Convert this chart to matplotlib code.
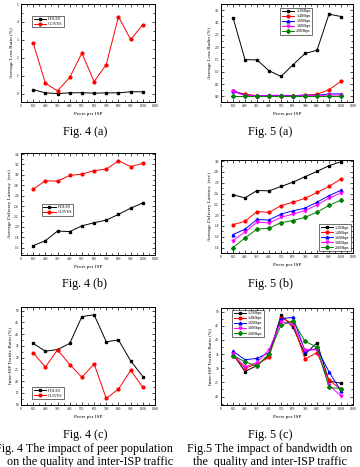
import numpy as np
import matplotlib.pyplot as plt
from matplotlib.ticker import MultipleLocator

plt.rcParams['font.family'] = ['Liberation Serif', 'DejaVu Serif']

peers = [100, 200, 300, 400, 500, 600, 700, 800, 900, 1000]

# Fig. 4 : HOLES vs OLIVES
loss_holes = [0.22, 0.04, 0.0, 0.04, 0.05, 0.02, 0.04, 0.04, 0.10, 0.10]
loss_olives = [2.82, 0.58, 0.15, 0.90, 2.26, 0.67, 1.62, 4.29, 3.02, 3.84]
lat_holes = [1.64, 1.735, 1.92, 1.91, 2.02, 2.08, 2.13, 2.24, 2.36, 2.46]
lat_olives = [2.725, 2.886, 2.88, 2.99, 3.015, 3.08, 3.11, 3.27, 3.16, 3.22]
isp_holes = [36.0, 32.7, 33.4, 36.0, 47.4, 48.2, 36.7, 37.5, 28.6, 21.9]
isp_olives = [32.1, 25.9, 33.3, 27.0, 21.6, 27.3, 12.6, 16.6, 24.5, 17.4]

# Fig. 5 : bandwidth
bw_labels = ['1.2Mbps', '1.4Mbps', '1.6Mbps', '1.8Mbps', '2.0Mbps']
loss_bw = [
    [3.20, 1.49, 1.48, 1.04, 0.81, 1.28, 1.74, 1.87, 3.34, 3.24],
    [0.20, 0.09, 0.03, 0.03, 0.03, 0.01, 0.05, 0.08, 0.27, 0.61],
    [0.23, 0.05, 0.02, 0.04, 0.04, 0.03, 0.05, 0.04, 0.10, 0.10],
    [0.20, 0.03, 0.02, 0.02, 0.02, 0.02, 0.03, 0.03, 0.05, 0.05],
    [0.0, 0.0, 0.0, 0.0, 0.0, 0.0, 0.0, 0.0, 0.0, 0.0],
]
lat_bw = [
    [2.376, 2.32, 2.455, 2.45, 2.53, 2.61, 2.71, 2.81, 2.915, 2.99],
    [1.824, 1.885, 2.067, 2.05, 2.176, 2.24, 2.31, 2.42, 2.53, 2.67],
    [1.64, 1.74, 1.92, 1.91, 2.02, 2.08, 2.13, 2.24, 2.36, 2.46],
    [1.53, 1.69, 1.87, 1.855, 1.96, 2.02, 2.085, 2.19, 2.315, 2.41],
    [1.40, 1.58, 1.74, 1.76, 1.86, 1.90, 1.96, 2.055, 2.18, 2.28],
]
isp_bw = [
    [35.0, 28.8, 31.0, 34.6, 48.8, 44.5, 35.0, 39.0, 25.5, 24.7],
    [34.5, 30.0, 31.5, 33.8, 47.8, 45.8, 33.2, 35.5, 25.8, 22.5],
    [36.0, 33.0, 33.5, 35.5, 47.5, 48.0, 36.0, 37.0, 28.7, 22.0],
    [35.0, 30.5, 32.0, 36.5, 46.5, 45.5, 36.5, 36.5, 24.0, 20.2],
    [34.5, 32.3, 30.7, 35.2, 45.2, 46.8, 39.5, 37.5, 23.2, 22.8],
]

colors = ['black', 'red', 'blue', 'magenta', 'green']
markers = ['s', 'o', '^', 'v', 'D']

W, H = 360, 467
fig = plt.figure(figsize=(W / 100, H / 100), dpi=100)


def make_ax(l, r, t, b):
    return fig.add_axes([l / W, 1 - b / H, (r - l) / W, (b - t) / H])


def style(ax, ylabel, ylim, ymaj, ymin, yfmt):
    ax.set_xlim(0, 1100)
    ax.set_ylim(*ylim)
    ax.xaxis.set_major_locator(MultipleLocator(100))
    ax.xaxis.set_minor_locator(MultipleLocator(50))
    ax.yaxis.set_major_locator(MultipleLocator(ymaj))
    ax.yaxis.set_minor_locator(MultipleLocator(ymin))
    ax.yaxis.set_major_formatter(yfmt)
    ax.tick_params(which='both', direction='in', top=True, right=True,
                   labelsize=2.6, width=0.5, pad=1.5)
    ax.tick_params(which='major', length=2.2)
    ax.tick_params(which='minor', length=1.2)
    for s in ax.spines.values():
        s.set_linewidth(0.7)
    ax.set_xlabel('Peers per ISP', fontsize=3.8, labelpad=3)
    ax.set_ylabel(ylabel, fontsize=3.8, labelpad=2)


def draw(ax, series, labels, loc, anchor=None):
    for i, (ys, lab) in enumerate(zip(series, labels)):
        ax.plot(peers, ys, color=colors[i], marker=markers[i], markersize=2,
                linewidth=0.7, label=lab)
    leg = ax.legend(loc=loc, bbox_to_anchor=anchor, fontsize=3, frameon=True,
                    fancybox=False, edgecolor='black', handlelength=3,
                    borderpad=0.3, labelspacing=0.25, handletextpad=0.5)
    leg.get_frame().set_linewidth(0.5)


# Fig 4 (a)
ax = make_ax(21, 155, 4, 102)
draw(ax, [loss_holes, loss_olives], ['HOLES', 'OLIVES'], 'upper left', (0.07, 0.9))
style(ax, 'Average Loss Ratio (%)', (-0.47, 5), 1, 0.5, '{x:.0f}')

# Fig 5 (a)
ax = make_ax(221, 353, 4, 102)
draw(ax, loss_bw, bw_labels, 'upper center', (0.57, 0.98))
style(ax, 'Average Loss Radio (%)', (-0.23, 3.75), 0.5, 0.25, '{x:.1f}')

# Fig 4 (b)
ax = make_ax(21, 155, 153, 255)
draw(ax, [lat_holes, lat_olives], ['HOLES', 'OLIVES'], 'upper left', (0.14, 0.52))
style(ax, 'Average Delivery Latency  (sec)', (1.46, 3.42), 0.2, 0.1, '{x:.1f}')

# Fig 5 (b)
ax = make_ax(221, 353, 160, 253)
draw(ax, lat_bw, bw_labels, 'lower right', (1.0, 0.0))
style(ax, 'Average Delivery Latency  (sec)', (1.30, 3.02), 0.2, 0.1, '{x:.1f}')

# Fig 4 (c)
ax = make_ax(21, 155, 307, 405)
draw(ax, [isp_holes, isp_olives], ['HOLES', 'OLIVES'], 'lower left', (0.07, 0.04))
style(ax, 'Inter-ISP Traffic Ratio (%)', (9.8, 51.5), 5, 2.5, '{x:.0f}')

# Fig 5 (c)
ax = make_ax(221, 353, 308, 405)
draw(ax, isp_bw, bw_labels, 'upper left', (0.07, 1.0))
style(ax, 'Inter-ISP Traffic Ratio (%)', (17.0, 51.3), 5, 2.5, '{x:.0f}')

# captions
cap = 8.7
fig.text(85 / W, 1 - 132 / H, 'Fig. 4 (a)', ha='center', va='center', fontsize=cap)
fig.text(270 / W, 1 - 132 / H, 'Fig. 5 (a)', ha='center', va='center', fontsize=cap)
fig.text(85 / W, 1 - 284 / H, 'Fig. 4 (b)', ha='center', va='center', fontsize=cap)
fig.text(270 / W, 1 - 284 / H, 'Fig. 5 (b)', ha='center', va='center', fontsize=cap)
fig.text(85 / W, 1 - 435 / H, 'Fig. 4 (c)', ha='center', va='center', fontsize=cap)
fig.text(270 / W, 1 - 435 / H, 'Fig. 5 (c)', ha='center', va='center', fontsize=cap)
fig.text(84 / W, 1 - 449 / H, 'Fig. 4 The impact of peer population',
         ha='center', va='center', fontsize=cap)
fig.text(90 / W, 1 - 462 / H, 'on the quality and inter-ISP traffic',
         ha='center', va='center', fontsize=cap)
fig.text(270 / W, 1 - 449 / H, 'Fig.5 The impact of bandwidth on',
         ha='center', va='center', fontsize=cap)
fig.text(270 / W, 1 - 462 / H, 'the  quality and inter-ISP traffic',
         ha='center', va='center', fontsize=cap)

fig.savefig('out.png', dpi=100)
